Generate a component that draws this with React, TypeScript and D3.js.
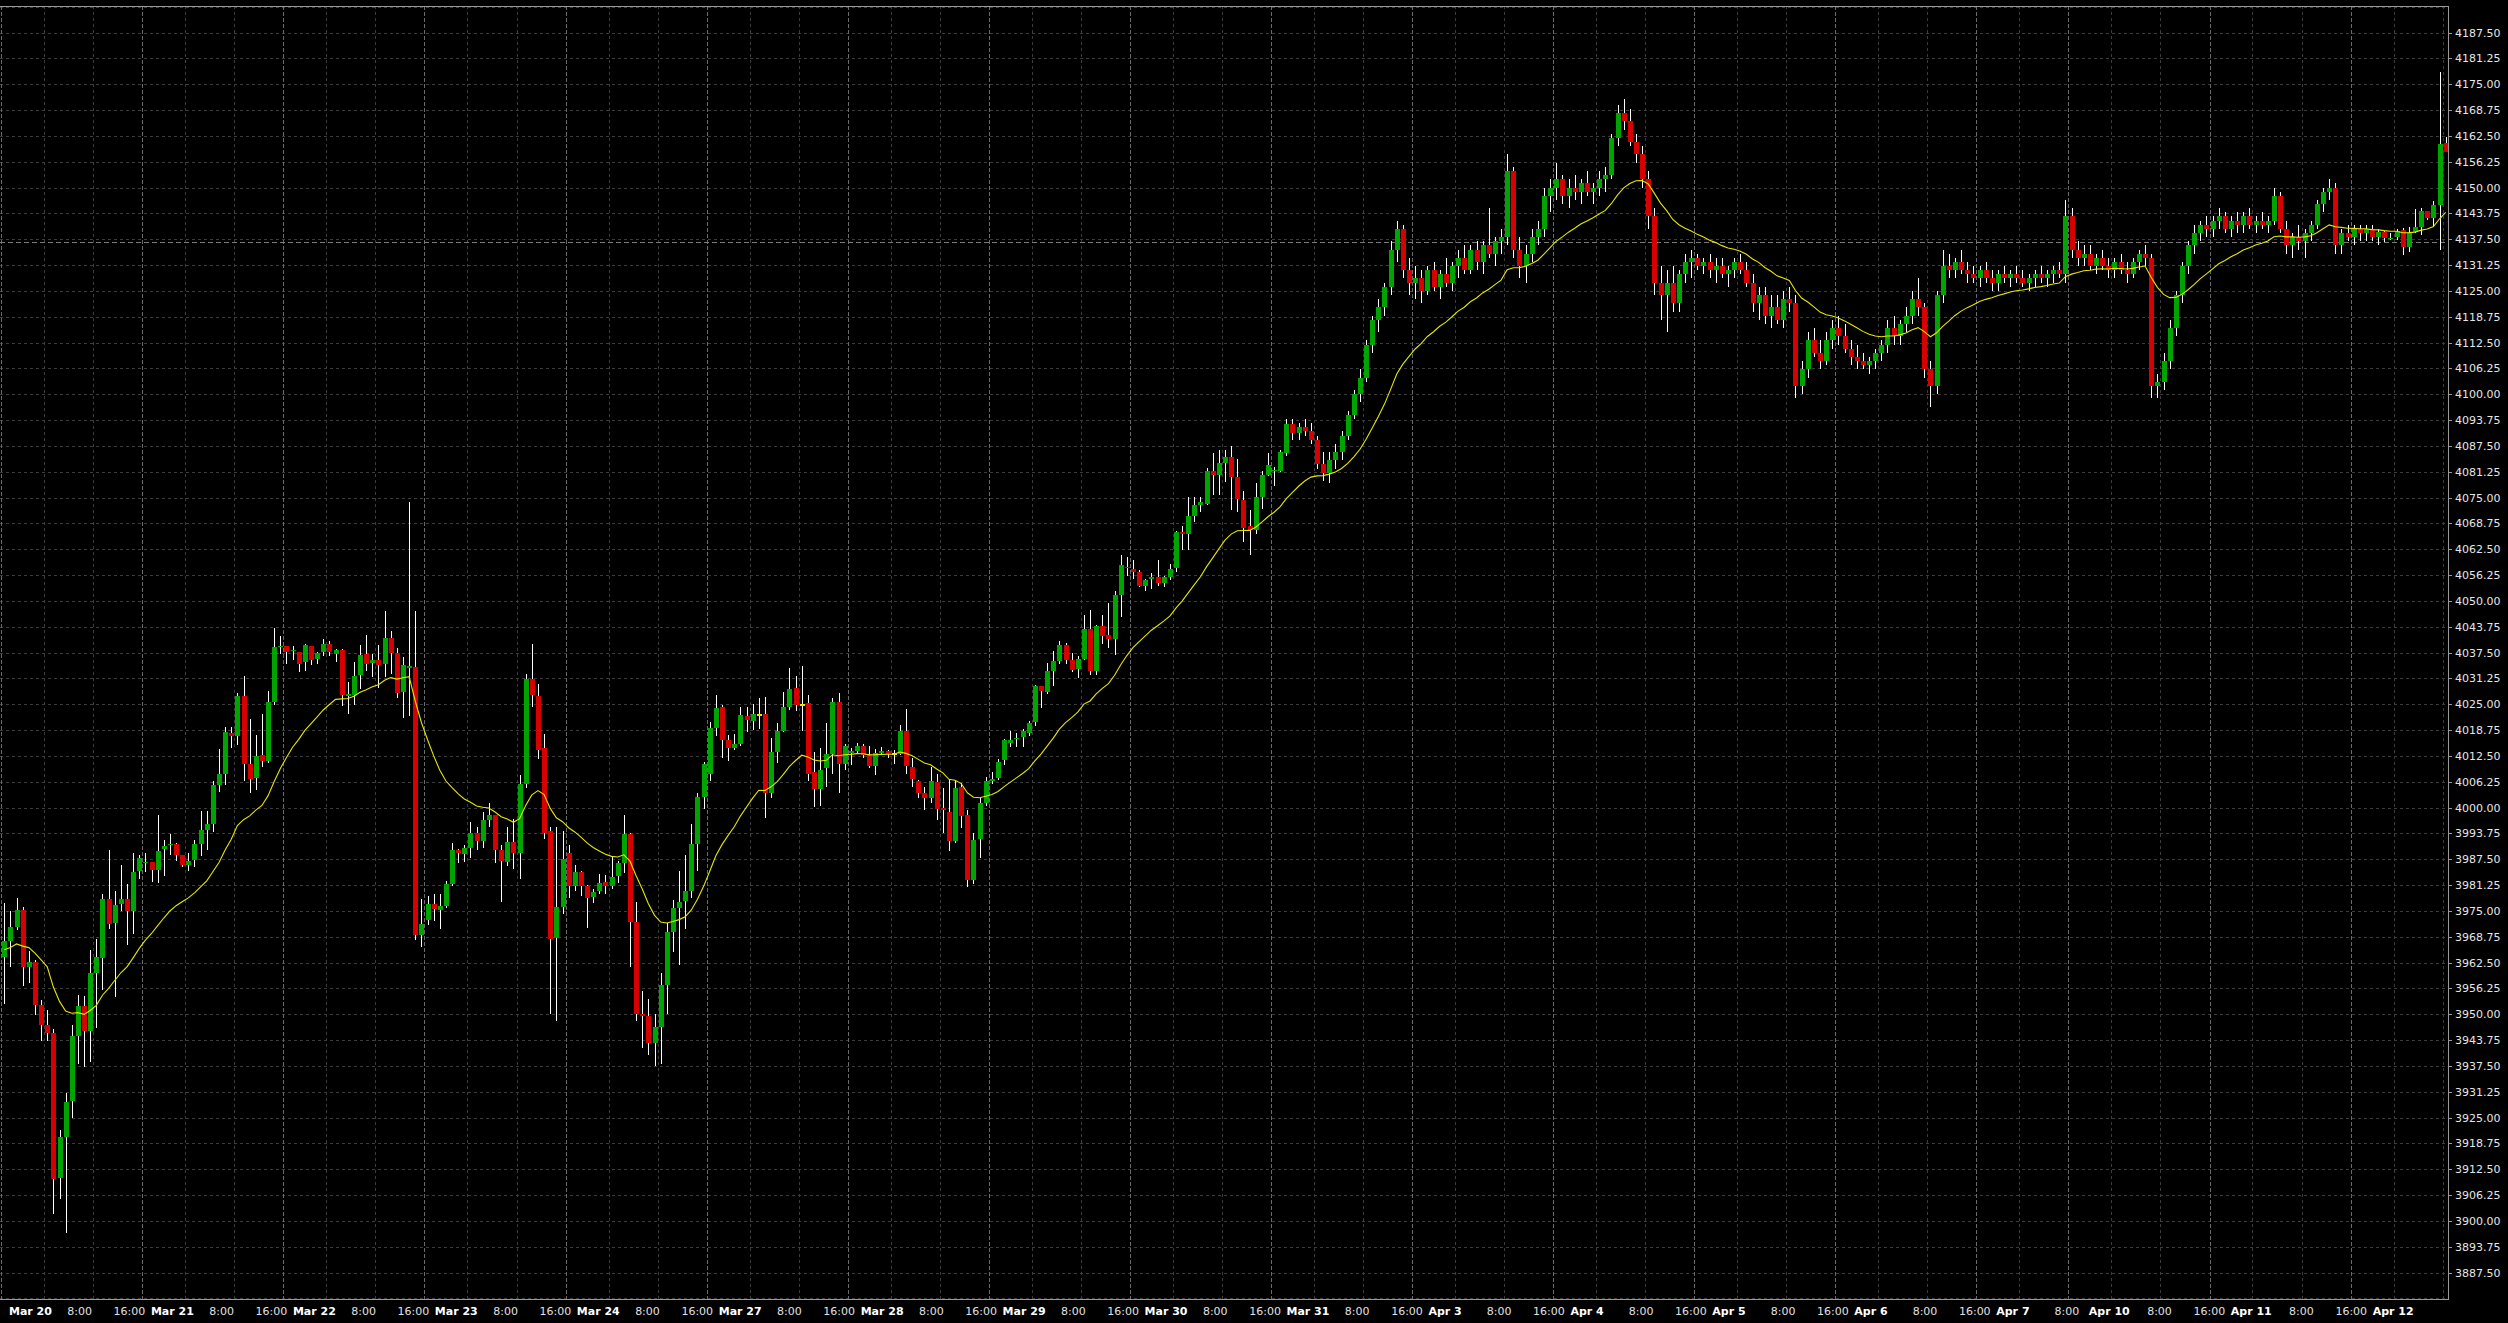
import React from "react";
import * as d3 from "d3";

type Bar = [number, number, number, number]; // open, high, low, close

const mar20: Bar[] = [
  [3963.9,3976.9,3952.5,3967.7],[3967.7,3974.9,3961.5,3971.1],[3971.1,3978.2,3970.3,3975.2],[3975.1,3976.0,3956.7,3961.5],
  [3961.5,3965.4,3957.6,3962.7],[3962.7,3963.0,3949.9,3952.2],[3952.2,3953.5,3943.4,3947.5],[3947.5,3951.1,3943.6,3945.4],
  [3945.4,3946.3,3901.6,3910.1],[3910.3,3922.0,3905.4,3920.2],[3920.4,3930.9,3897.0,3928.8],[3929.1,3947.3,3925.0,3944.8],
  [3944.8,3954.7,3938.0,3951.9],[3951.9,3954.3,3937.3,3946.0],[3946.0,3965.6,3938.4,3959.9],[3959.9,3968.1,3946.6,3963.8],
  [3963.6,3979.0,3955.8,3977.8],[3977.8,3989.7,3970.7,3971.9],[3972.1,3979.8,3954.1,3976.4],[3976.6,3986.0,3974.9,3977.8],
  [3977.8,3981.6,3966.8,3974.9],[3974.9,3989.1,3969.5,3984.4],[3984.7,3988.5,3982.6,3987.7],
];
const mar21: Bar[] = [
  [3986.6,3989.1,3984.4,3986.8],[3986.7,3986.9,3982.0,3984.9],[3984.9,3998.1,3981.7,3989.4],[3989.9,3992.1,3983.4,3990.8],
  [3990.9,3993.5,3988.5,3991.1],[3991.1,3991.3,3987.0,3988.5],[3988.4,3988.5,3985.5,3986.1],[3986.1,3989.1,3984.7,3987.0],
  [3987.3,3992.1,3985.5,3991.1],[3991.1,3999.1,3988.3,3994.5],[3994.5,3999.1,3989.7,3996.1],[3996.1,4006.3,3994.1,4005.4],
  [4005.4,4014.1,4003.8,4008.0],[4008.0,4019.4,4005.5,4018.2],[4018.0,4019.4,4014.3,4017.4],[4017.4,4027.8,4015.2,4026.9],
  [4026.9,4031.9,4006.3,4010.5],[4010.5,4021.4,4003.6,4006.8],[4007.2,4017.6,4004.3,4012.4],[4012.6,4022.6,4009.9,4011.3],
  [4011.3,4028.1,4010.7,4025.5],[4025.5,4043.4,4024.8,4038.8],[4038.8,4041.6,4037.2,4039.1],
];
const mar22: Bar[] = [
  [4039.0,4039.1,4034.8,4037.6],[4037.8,4039.0,4035.7,4038.0],[4037.6,4037.7,4032.8,4034.6],[4035.2,4039.6,4033.1,4039.2],
  [4039.0,4039.1,4034.5,4035.7],[4035.9,4037.6,4034.6,4037.5],[4037.6,4040.7,4036.6,4039.6],[4039.6,4040.2,4036.6,4037.6],
  [4037.2,4038.4,4035.1,4038.0],[4038.2,4038.3,4024.5,4027.2],[4026.9,4030.3,4022.6,4027.4],[4027.2,4035.1,4024.8,4031.9],
  [4032.0,4039.2,4028.6,4037.0],[4037.2,4041.8,4033.1,4034.7],[4035.0,4037.2,4031.5,4035.8],[4035.8,4039.2,4028.8,4034.4],
  [4034.6,4047.6,4031.5,4041.1],[4041.1,4042.8,4032.2,4037.5],[4037.5,4038.5,4026.4,4027.7],[4027.9,4036.3,4021.7,4034.4],
  [4033.8,4073.9,4022.2,4034.2],[4034.1,4047.6,3968.0,3969.2],[3969.2,3977.8,3966.3,3971.8],
];
const mar23: Bar[] = [
  [3972.7,3978.5,3971.5,3976.6],[3976.6,3979.0,3972.5,3975.4],[3975.1,3979.0,3970.6,3976.1],[3976.1,3982.3,3975.6,3981.6],
  [3981.6,3991.4,3981.1,3989.7],[3989.7,3990.0,3986.6,3989.0],[3988.8,3990.9,3986.8,3990.2],[3990.2,3996.6,3987.7,3993.8],
  [3993.8,3995.2,3989.7,3991.9],[3991.9,3999.0,3990.2,3996.9],[3996.9,4001.1,3995.2,3998.1],[3998.3,3998.3,3986.6,3989.7],
  [3989.7,3990.9,3977.2,3987.1],[3986.8,3995.2,3985.8,3991.7],[3991.7,3997.1,3985.2,3989.0],[3989.0,4007.8,3982.6,4005.6],
  [4005.6,4032.3,4004.8,4031.0],[4031.0,4039.6,4024.2,4027.2],[4026.9,4029.9,4011.7,4014.0],[4014.3,4017.7,3992.3,3993.9],
  [3994.2,3995.2,3950.1,3968.2],[3968.4,3995.4,3948.4,3975.9],[3975.9,3994.2,3974.2,3987.6],
];
const mar24: Bar[] = [
  [3989.0,3990.9,3978.0,3981.1],[3981.1,3986.1,3979.7,3984.5],[3984.5,3984.7,3978.5,3981.1],[3981.1,3981.2,3970.8,3978.0],
  [3978.3,3980.4,3977.0,3979.6],[3979.9,3984.0,3979.0,3981.8],[3982.0,3983.7,3979.0,3981.1],[3981.1,3988.0,3980.4,3983.3],
  [3983.5,3987.1,3981.8,3986.6],[3986.6,3998.3,3984.2,3993.5],[3993.5,3993.8,3961.3,3972.4],[3972.4,3977.2,3948.4,3950.1],
  [3950.1,3955.5,3941.7,3949.6],[3949.6,3953.6,3940.2,3943.1],[3943.1,3950.0,3937.5,3947.0],[3947.0,3960.0,3938.0,3957.0],
  [3957.0,3972.0,3950.0,3970.0],[3970.0,3977.7,3965.0,3975.7],[3975.7,3984.7,3962.0,3977.2],[3977.4,3988.6,3970.7,3979.9],
  [3979.9,3996.0,3978.2,3991.1],[3991.1,4003.6,3984.7,4002.5],[4002.5,4010.9,3999.6,4010.5],
];
const mar27: Bar[] = [
  [4008.0,4020.7,4006.3,4019.3],[4019.3,4027.2,4017.3,4024.1],[4024.3,4024.7,4011.9,4016.4],[4016.4,4017.6,4011.3,4014.4],
  [4014.4,4017.8,4013.8,4015.4],[4015.4,4024.4,4014.9,4022.3],[4022.1,4024.4,4018.2,4021.1],[4020.9,4025.0,4018.8,4022.6],
  [4022.4,4026.5,4019.0,4022.4],[4022.6,4026.7,3997.4,4003.5],[4003.5,4016.9,4002.4,4013.4],[4013.4,4020.4,4010.7,4018.4],
  [4018.4,4027.9,4018.2,4024.3],[4024.3,4033.7,4023.6,4028.6],[4028.8,4031.9,4023.4,4024.8],[4024.8,4034.2,4018.4,4024.8],
  [4025.3,4027.1,4006.5,4008.2],[4008.6,4013.4,4000.1,4004.5],[4004.5,4014.4,4000.3,4009.0],[4009.5,4020.4,4004.9,4012.9],
  [4012.9,4026.5,4008.2,4025.5],[4025.5,4027.7,4003.5,4010.5],[4010.5,4015.3,4009.0,4014.9],
];
const mar28: Bar[] = [
  [4013.2,4014.3,4010.3,4013.6],[4013.6,4015.5,4013.0,4014.9],[4014.9,4015.3,4012.0,4012.8],[4012.8,4015.0,4009.5,4010.1],
  [4010.1,4014.2,4007.8,4013.2],[4013.2,4014.6,4012.8,4013.6],[4013.6,4014.0,4012.0,4013.0],[4013.0,4014.0,4010.5,4013.0],
  [4013.0,4020.0,4012.8,4018.4],[4018.4,4023.9,4008.2,4010.1],[4009.8,4011.9,4004.9,4006.8],[4006.5,4006.6,4002.4,4003.6],
  [4003.4,4005.0,3999.3,4002.4],[4002.4,4009.9,4001.0,4006.3],[4006.1,4008.2,3997.0,3999.7],[3999.9,4004.7,3993.8,3999.3],
  [3999.0,4007.0,3989.5,3992.0],[3992.0,4006.5,3991.3,4004.7],[4004.9,4006.0,3995.1,3998.0],[3998.2,3999.5,3980.7,3982.4],
  [3982.5,3993.8,3981.5,3992.2],[3992.4,4002.3,3987.8,4001.1],[4001.2,4007.5,4000.4,4006.4],
];
const mar29: Bar[] = [
  [4006.5,4008.5,4005.6,4006.9],[4007.1,4011.8,4006.7,4011.0],[4011.4,4016.5,4010.3,4016.3],[4015.5,4018.5,4014.7,4016.3],
  [4016.5,4018.1,4014.7,4016.9],[4017.0,4018.9,4014.7,4018.4],[4018.1,4021.0,4017.3,4020.4],[4020.8,4029.6,4019.6,4029.4],
  [4029.4,4029.5,4024.0,4028.3],[4028.0,4034.9,4027.5,4033.0],[4033.0,4037.9,4029.4,4035.5],[4035.5,4040.2,4034.7,4039.3],
  [4039.3,4039.7,4034.7,4035.6],[4035.6,4037.3,4032.8,4033.2],[4033.5,4036.6,4031.4,4035.9],[4035.9,4046.5,4035.6,4043.3],
  [4043.1,4047.7,4032.0,4033.1],[4033.1,4044.1,4032.0,4043.9],[4043.9,4046.5,4039.5,4041.4],[4041.7,4049.5,4038.5,4040.8],
  [4040.8,4052.4,4036.9,4051.3],[4051.3,4061.2,4046.1,4058.6],[4058.3,4060.6,4055.9,4057.9],
];
const mar30: Bar[] = [
  [4057.8,4059.8,4055.2,4057.0],[4057.0,4057.4,4053.3,4053.7],[4053.7,4055.2,4052.4,4055.1],[4055.2,4056.7,4052.9,4055.7],
  [4055.7,4059.8,4053.7,4054.3],[4054.3,4056.0,4053.3,4055.8],[4055.8,4058.8,4055.1,4057.8],[4057.9,4066.8,4056.9,4066.6],
  [4066.6,4068.1,4062.4,4066.1],[4066.1,4075.1,4062.4,4070.6],[4070.6,4075.1,4069.0,4073.1],[4073.1,4075.1,4071.4,4073.8],
  [4073.5,4082.1,4073.3,4081.5],[4081.3,4085.7,4075.5,4080.5],[4080.5,4086.5,4075.5,4083.3],[4083.3,4086.5,4078.7,4084.9],
  [4084.9,4087.5,4071.9,4079.9],[4079.9,4084.3,4071.4,4074.7],[4074.4,4076.5,4064.2,4067.7],[4068.0,4072.0,4061.2,4067.2],
  [4067.2,4078.4,4066.1,4075.2],[4075.2,4081.3,4072.2,4080.5],[4080.5,4085.7,4080.3,4082.9],
];
const mar31: Bar[] = [
  [4081.3,4082.5,4077.9,4081.7],[4081.3,4086.5,4081.1,4085.9],[4085.7,4094.0,4085.1,4092.8],[4092.8,4094,4089,4090.5],
  [4090.5,4093,4089,4092],[4092,4094,4090,4091],[4091,4093,4088,4089],[4089,4090,4082,4083],
  [4083,4086,4079,4081],[4081,4086,4078.5,4084],[4084,4088,4082,4086],[4086,4091,4084,4090],
  [4090,4096,4089,4095],[4095,4101,4094,4100],[4100,4106,4098,4104],[4104,4113,4103,4112],
  [4112,4119,4110,4118],[4118,4123,4115,4121],[4121,4127,4119,4126],[4126,4137,4124,4135],
  [4135,4142,4132,4140],[4140,4141,4128,4130],[4130,4133,4124,4127],
];
const apr03: Bar[] = [
  [4127,4131,4123,4128],[4128,4130,4122,4125],[4125,4131,4124,4130],[4130,4132,4125,4126],
  [4126,4130,4123,4129],[4129,4133,4126,4127],[4127,4132,4125,4131],[4131,4135,4128,4133],
  [4133,4136,4129,4130],[4130,4136,4129,4135],[4135,4137,4130,4132],[4132,4137,4129,4136],
  [4136,4145,4133,4134],[4134,4138,4131,4137],[4137,4140,4134,4138],[4138,4158,4136,4154],
  [4154,4155,4133,4135],[4135,4138,4128,4131],[4131,4136,4127,4134],[4134,4140,4132,4138],
  [4138,4142,4136,4140],[4140,4150,4138,4148],[4148,4152,4144,4150],
];
const apr04: Bar[] = [
  [4150,4156,4147,4152],[4152,4153,4146,4148],[4148,4152,4145,4150],[4150,4153,4147,4149],
  [4149,4152,4146,4151],[4151,4154,4148,4149],[4149,4151,4146,4150],[4150,4154,4148,4152],
  [4152,4155,4149,4153],[4153,4163,4152,4162],[4162,4170,4160,4168],[4168,4171.5,4164,4166],
  [4166,4169,4160,4161],[4161,4163,4156,4158],[4158,4160,4150,4152],[4152,4154,4140,4143],
  [4143,4145,4124,4127],[4127,4131,4118,4124],[4124,4130,4115,4127],[4127,4131,4120,4122],
  [4122,4130,4120,4129],[4129,4134,4127,4132],[4132,4135,4128,4133],
];
const apr05: Bar[] = [
  [4133,4134,4130,4131],[4131,4133,4129,4132],[4132,4134,4128,4130],[4130,4133,4127,4131],
  [4131,4133,4128,4129],[4129,4131,4126,4130],[4130,4133,4128,4132],[4132,4134,4129,4130],
  [4130,4132,4126,4127],[4127,4129,4120,4122],[4122,4126,4118,4124],[4124,4126,4117,4119],
  [4119,4124,4116,4121],[4121,4124,4117,4118],[4118,4125,4116,4123],[4123,4126,4120,4122],
  [4122,4124,4099,4102],[4102,4108,4100,4106],[4106,4115,4104,4113],[4113,4116,4109,4110],
  [4110,4113,4106,4108],[4108,4115,4107,4113],[4113,4118,4111,4116],
];
const apr06: Bar[] = [
  [4116,4119,4112,4114],[4114,4117,4110,4111],[4111,4113,4107,4109],[4109,4112,4106,4108],
  [4108,4110,4106,4107],[4107,4109,4105,4108],[4108,4111,4106,4110],[4110,4113,4108,4112],
  [4112,4118,4110,4116],[4116,4119,4112,4114],[4114,4118,4112,4117],[4117,4121,4115,4119],
  [4119,4125,4117,4123],[4123,4128,4119,4121],[4121,4122,4104,4106],[4106,4108,4097,4102],
  [4102,4125,4100,4124],[4124,4135,4122,4131],[4131,4134,4128,4130],[4130,4133,4128,4132],
  [4132,4135,4129,4130],[4130,4132,4127,4129],[4129,4131,4127,4128],
];
const apr07: Bar[] = [
  [4128,4131,4126,4130],[4130,4132,4127,4128],[4128,4130,4125,4127],[4127,4130,4125,4129],
  [4129,4131,4127,4128],[4128,4130,4126,4129],[4129,4131,4127,4128],[4128,4130,4126,4127],
  [4127,4129,4125,4128],[4128,4130,4126,4129],[4129,4131,4127,4128],[4128,4130,4126,4129],
  [4129,4131,4127,4130],[4130,4132,4128,4129],[4129,4147,4127,4143],
];
const apr10: Bar[] = [
  [4143,4145,4133,4135],[4135,4137,4131,4133],[4133,4136,4131,4134],[4134,4136,4130,4131],
  [4131,4134,4129,4133],[4133,4135,4130,4131],[4131,4133,4128,4130],[4130,4133,4128,4132],
  [4132,4134,4129,4130],[4130,4132,4127,4129],[4129,4133,4128,4132],[4132,4135,4130,4134],
  [4134,4136,4131,4133],[4133,4134,4099,4102],[4102,4105,4099,4103],[4103,4110,4101,4108],
  [4108,4118,4106,4116],[4116,4125,4114,4124],[4124,4132,4122,4131],[4131,4137,4129,4136],
  [4136,4141,4134,4139],[4139,4142,4137,4141],[4141,4143,4138,4140],
];
const apr11: Bar[] = [
  [4140,4143,4138,4142],[4142,4145,4140,4143],[4143,4144,4139,4140],[4140,4143,4138,4142],
  [4142,4144,4139,4141],[4141,4144,4139,4143],[4143,4145,4140,4141],[4141,4143,4139,4142],
  [4142,4144,4140,4141],[4141,4143,4139,4142],[4142,4150,4141,4148],[4148,4149,4139,4140],
  [4140,4142,4134,4136],[4136,4139,4133,4138],[4138,4141,4135,4137],[4137,4140,4133,4139],
  [4139,4142,4137,4141],[4141,4147,4140,4146],[4146,4150,4144,4149],[4149,4152,4147,4150],
  [4150,4151,4134,4136],[4136,4140,4134,4139],[4139,4141,4137,4138],
];
const apr12: Bar[] = [
  [4138,4141,4136,4140],[4140,4141,4137,4139],[4139,4141,4137,4140],[4140,4141,4137,4138],
  [4138,4140,4136,4139.2],[4139.2,4139.5,4136.9,4137.7],[4137.5,4138.9,4137.3,4137.9],[4138.0,4139.9,4137.3,4139.5],
  [4139.7,4140.1,4133.7,4135.7],[4135.7,4140.4,4134.5,4139.2],[4139.2,4144.7,4139.0,4140.5],[4140.5,4145.1,4138.5,4144.3],
  [4144.2,4144.2,4142.2,4142.7],[4142.7,4146.8,4140.5,4145.8],[4145.8,4178.0,4134.9,4160.5],[4160.7,4162.1,4158.7,4158.7],
];

const dayNames = ["Mar 20","Mar 21","Mar 22","Mar 23","Mar 24","Mar 27","Mar 28","Mar 29","Mar 30","Mar 31",
  "Apr 3","Apr 4","Apr 5","Apr 6","Apr 7","Apr 10","Apr 11","Apr 12"];
const dayBars = [mar20,mar21,mar22,mar23,mar24,mar27,mar28,mar29,mar30,mar31,apr03,apr04,apr05,apr06,apr07,apr10,apr11,apr12];
const timeLabels = ["8:00", "16:00"];
const timeLabelBarOffsets = [7, 15];
const maPeriod = 20;
const maFirstValue = 3965.6;
const markerLevel = 4136.75;
const priceMin = 3887.5;
const priceMax = 4187.5;
const priceStep = 6.25;

export default function App() {
  const W = 2508, H = 1323;
  const plotRight = 2448, plotTop = 6, plotBottom = 1299;
  const bars = dayBars.flat();
  const n = bars.length;
  const x = d3.scaleLinear().domain([0, n - 1]).range([4.3, 2445.7]);
  const y = d3.scaleLinear().domain([priceMin, priceMax]).range([1272.5, 32.5]);
  const step = (x(1) - x(0));

  const starts: number[] = [];
  let acc = 0;
  dayBars.forEach(d => { starts.push(acc); acc += d.length; });

  const labelTicks = d3.range(priceMin, priceMax + 0.001, priceStep);
  const gridTicks = d3.range(priceMin - 4 * priceStep, priceMax + 4 * priceStep, priceStep)
    .filter(v => y(v) > plotTop + 0.5 && y(v) < plotBottom - 0.5);

  const alpha = 2 / (maPeriod + 1);
  const ma: number[] = [];
  bars.forEach((b, i) => {
    if (i === 0) ma.push(maFirstValue);
    else ma.push(ma[i - 1] + alpha * (b[3] - ma[i - 1]));
  });
  const maPath = d3.line<number>().x((_, i) => x(i)).y(v => y(v)).curve(d3.curveLinear)(ma) || "";

  const sepX = (d: number) => x(d) - step / 2;
  const drift = 1.0061;

  const vGridDim: number[] = [];
  const vGridSep: number[] = [];
  const xLabels: { x: number; text: string; bold: boolean; w: number }[] = [];
  starts.forEach((s, k) => {
    const len = dayBars[k].length;
    const sx = sepX(s);
    vGridSep.push(sx);
    timeLabelBarOffsets.forEach((off) => {
      if (off < len) vGridDim.push(x(s + off) - step / 2);
    });
    xLabels.push({ x: (sx + 7.7) * drift, text: dayNames[k], bold: true, w: 42 });
    const tBase = [65.7, 111.7];
    timeLabelBarOffsets.forEach((off, j) => {
      if (off < len) xLabels.push({ x: (sx + tBase[j]) * drift, text: timeLabels[j], bold: false, w: j === 0 ? 25 : 32 });
    });
  });
  const shownLabels = xLabels.filter(l => l.x + l.w < plotRight);

  const bodyW = 5;
  const upColor = "#00a400";
  const downColor = "#d70000";
  const dojiColor = "#e8e800";

  return (
    <div style={{ position: "absolute", left: 0, top: 0, width: W, height: H, background: "#000" }}>
      <svg width={W} height={H} style={{ display: "block" }}>
        <rect x={0} y={0} width={W} height={H} fill="#000" />
        <g shapeRendering="crispEdges">
          {gridTicks.map((v, i) => (
            <line key={"hg" + i} x1={0} x2={plotRight} y1={Math.round(y(v)) + 0.5} y2={Math.round(y(v)) + 0.5}
              stroke="#3c3c3c" strokeWidth={1} strokeDasharray="3,3" />
          ))}
          {vGridDim.map((vx, i) => (
            <line key={"vd" + i} x1={Math.round(vx) + 0.5} x2={Math.round(vx) + 0.5} y1={plotTop} y2={plotBottom}
              stroke="#3c3c3c" strokeWidth={1} strokeDasharray="3,3" />
          ))}
          {vGridSep.map((vx, i) => (
            <line key={"vs" + i} x1={Math.round(vx) + 0.5} x2={Math.round(vx) + 0.5} y1={plotTop} y2={plotBottom}
              stroke="#6a6a6a" strokeWidth={1} strokeDasharray="4,2" />
          ))}
          <line x1={0} x2={plotRight} y1={Math.round(y(markerLevel)) + 0.5} y2={Math.round(y(markerLevel)) + 0.5}
            stroke="#7a7a7a" strokeWidth={1} strokeDasharray="5,3" />
        </g>
        <g shapeRendering="crispEdges">
          {bars.map((b, i) => {
            const cx = Math.round(x(i));
            return (
              <line key={"w" + i} x1={cx + 0.5} x2={cx + 0.5} y1={y(b[1])} y2={y(b[2])} stroke="#ffffff" strokeWidth={1} />
            );
          })}
          {bars.map((b, i) => {
            const cx = Math.round(x(i));
            const [o, , , c] = b;
            if (o === c) {
              return <rect key={"b" + i} x={cx - 2} y={y(o) - 1} width={bodyW} height={2} fill={dojiColor} />;
            }
            const top = y(Math.max(o, c));
            const bot = y(Math.min(o, c));
            return (
              <rect key={"b" + i} x={cx - 2} y={top} width={bodyW} height={Math.max(1, bot - top)}
                fill={c > o ? upColor : downColor} />
            );
          })}
        </g>
        <path d={maPath} fill="none" stroke="#e6e600" strokeWidth={1.1} />
        <g shapeRendering="crispEdges">
          <line x1={0} x2={plotRight + 0.5} y1={plotTop + 0.5} y2={plotTop + 0.5} stroke="#9a9a9a" />
          <line x1={plotRight + 0.5} x2={plotRight + 0.5} y1={plotTop} y2={plotBottom + 0.5} stroke="#9a9a9a" />
          <line x1={0} x2={plotRight + 0.5} y1={plotBottom + 0.5} y2={plotBottom + 0.5} stroke="#9a9a9a" />
          {labelTicks.map((v, i) => (
            <line key={"yt" + i} x1={plotRight} x2={plotRight + 4} y1={Math.round(y(v)) + 0.5} y2={Math.round(y(v)) + 0.5} stroke="#9a9a9a" />
          ))}
        </g>
        <g fontFamily="'DejaVu Sans', sans-serif" fontSize={11} fill="#e6e6e6">
          {labelTicks.map((v, i) => (
            <text key={"yl" + i} x={2455} y={y(v) + 4}>{v.toFixed(2)}</text>
          ))}
        </g>
        <g fontFamily="'DejaVu Sans', sans-serif" fontSize={11}>
          {shownLabels.map((l, i) => (
            <text key={"xl" + i} x={l.x} y={1314.5} fill={l.bold ? "#ffffff" : "#e0e0e0"} fontWeight={l.bold ? "bold" : "normal"}>
              {l.text}
            </text>
          ))}
        </g>
      </svg>
    </div>
  );
}
